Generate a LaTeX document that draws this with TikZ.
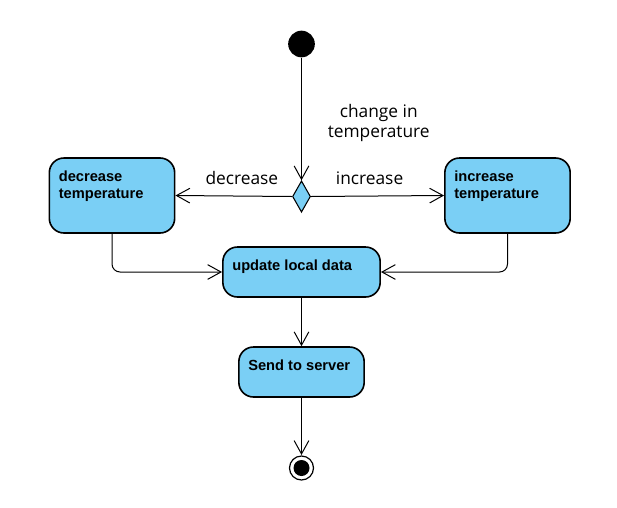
\documentclass[tikz,border=0pt]{standalone}
\usepackage{fontspec}
\setmainfont{Open Sans}
\newfontfamily\actfont{Liberation Sans}
\usetikzlibrary{arrows.meta,shapes.geometric}
\definecolor{actblue}{RGB}{122,207,245}
\tikzset{
  act/.style={draw, line width=1.2pt, fill=actblue, rounded corners=11pt, inner sep=0pt},
  acttext/.style={anchor=north west, xshift=7.5pt, yshift=-10pt, inner sep=0pt, align=left,
    font=\actfont\bfseries\fontsize{11}{12.5}\selectfont},
  flow/.style={line width=0.75pt, -{Straight Barb[length=10pt,width=11pt,line width=0.75pt]}},
  guard/.style={font=\fontsize{13}{15}\selectfont}
}
\begin{document}
\begin{tikzpicture}[x=0.75pt,y=-0.75pt]
\useasboundingbox (0,0) rectangle (617,507);

% Inicio
\node[circle, fill=black, minimum size=20pt, inner sep=0pt] (start) at (301.5,44) {};

% Decision
\node[diamond, draw, fill=actblue, line width=0.8pt, minimum width=13.5pt, minimum height=23.5pt, inner sep=0pt] (dec) at (301.5,196.5) {};

% Actividades
\node[act, minimum width=94pt, minimum height=56.25pt] (decr) at (112,195.5) {};
\node[acttext] (decrtxt) at (decr.north west) {decrease\\temperature};

\node[act, minimum width=94pt, minimum height=56.25pt] (incr) at (507.5,195.5) {};
\node[acttext] (incrtxt) at (incr.north west) {increase\\temperature};

\node[act, minimum width=118pt, minimum height=37.5pt] (upd) at (301.5,272) {};
\node[acttext] (updtxt) at (upd.north west) {update local data};

\node[act, minimum width=94pt, minimum height=37.5pt] (send) at (301.5,372) {};
\node[acttext] (sendtxt) at (send.north west) {Send to server};

% Fin
\node[circle, fill=black, minimum size=12pt, inner sep=0pt] (end) at (301.5,468) {};
\draw[line width=0.9pt] (end.center) circle (9pt);

% Flujos
\draw[flow] (start) -- (dec.north)
  node[guard, pos=0.53, anchor=west, align=center, xshift=16pt] (chg) {change in\\temperature};
\draw[flow] (dec.west) -- (decr.east)
  node[guard, pos=0.43, above, yshift=5pt] (lbldecr) {decrease};
\draw[flow] (dec.east) -- (incr.west)
  node[guard, pos=0.44, above, yshift=5pt] (lblincr) {increase};
\draw[flow, rounded corners=6pt] (decr.south) |- (upd.west);
\draw[flow, rounded corners=6pt] (incr.south) |- (upd.east);
\draw[flow] (upd) -- (send);
\draw[flow] (send) -- (end.north |- 0,455);

\end{tikzpicture}
\end{document}
